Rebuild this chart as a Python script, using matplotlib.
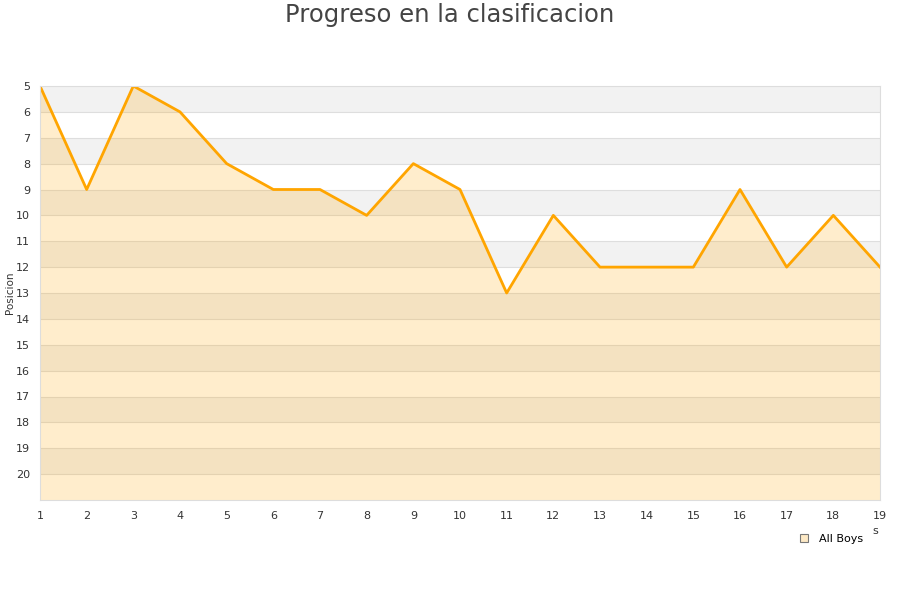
import matplotlib
matplotlib.use("Agg")
import matplotlib.pyplot as plt
from matplotlib.lines import Line2D

# data
jornadas = list(range(1, 20))
posicion = [5, 9, 5, 6, 8, 9, 9, 10, 8, 9, 13, 10, 12, 12, 12, 9, 12, 10, 12]
y_ticks = list(range(5, 21))
serie = "All Boys"

fig = plt.figure(figsize=(9, 6), dpi=100)
ax = fig.add_axes([40/900, 100/600, 840/900, 414/600])

ymin, ymax = 5, 21
# alternating bands
for k in range(ymin, ymax):
    if (k - ymin) % 2 == 0:
        ax.axhspan(k, k + 1, color="#f2f2f2", lw=0, zorder=0)
for k in range(ymin + 1, ymax):
    ax.axhline(k, color="#dedede", lw=0.8, zorder=0.5)

ax.fill_between(jornadas, posicion, ymax, color="#ffa500", alpha=0.2, lw=0, zorder=1)
ax.plot(jornadas, posicion, color="#ffa500", lw=2, zorder=2)

ax.set_xlim(1, 19)
ax.set_ylim(ymax, ymin)
ax.set_xticks(jornadas)
ax.set_yticks(y_ticks)
ax.tick_params(length=0, labelsize=8, colors="#333333", pad=8)
ax.tick_params(axis="y", pad=7)
for s in ax.spines.values():
    s.set_color("#dddddd")

fig.text(9.5/900, 1 - 293/600, "Posicion", rotation=90, ha="center", va="center",
         fontsize=7.5, color="#333333")
fig.text(0.5, 1 - 15/600, "Progreso en la clasificacion", ha="center", va="center",
         fontsize=17.5, color="#444444")
fig.text(875/900, 1 - 531/600, "s", ha="center", va="center", fontsize=8, color="#333333")

h = Line2D([], [], marker="s", ls="none", markersize=6,
           markerfacecolor="#fde9c5", markeredgecolor="#777777", markeredgewidth=0.8)
fig.legend([h], [serie], loc="center", bbox_to_anchor=(828/900, 1 - 539/600),
           frameon=False, fontsize=8, handletextpad=0.3)

fig.savefig("out.png", dpi=100)
